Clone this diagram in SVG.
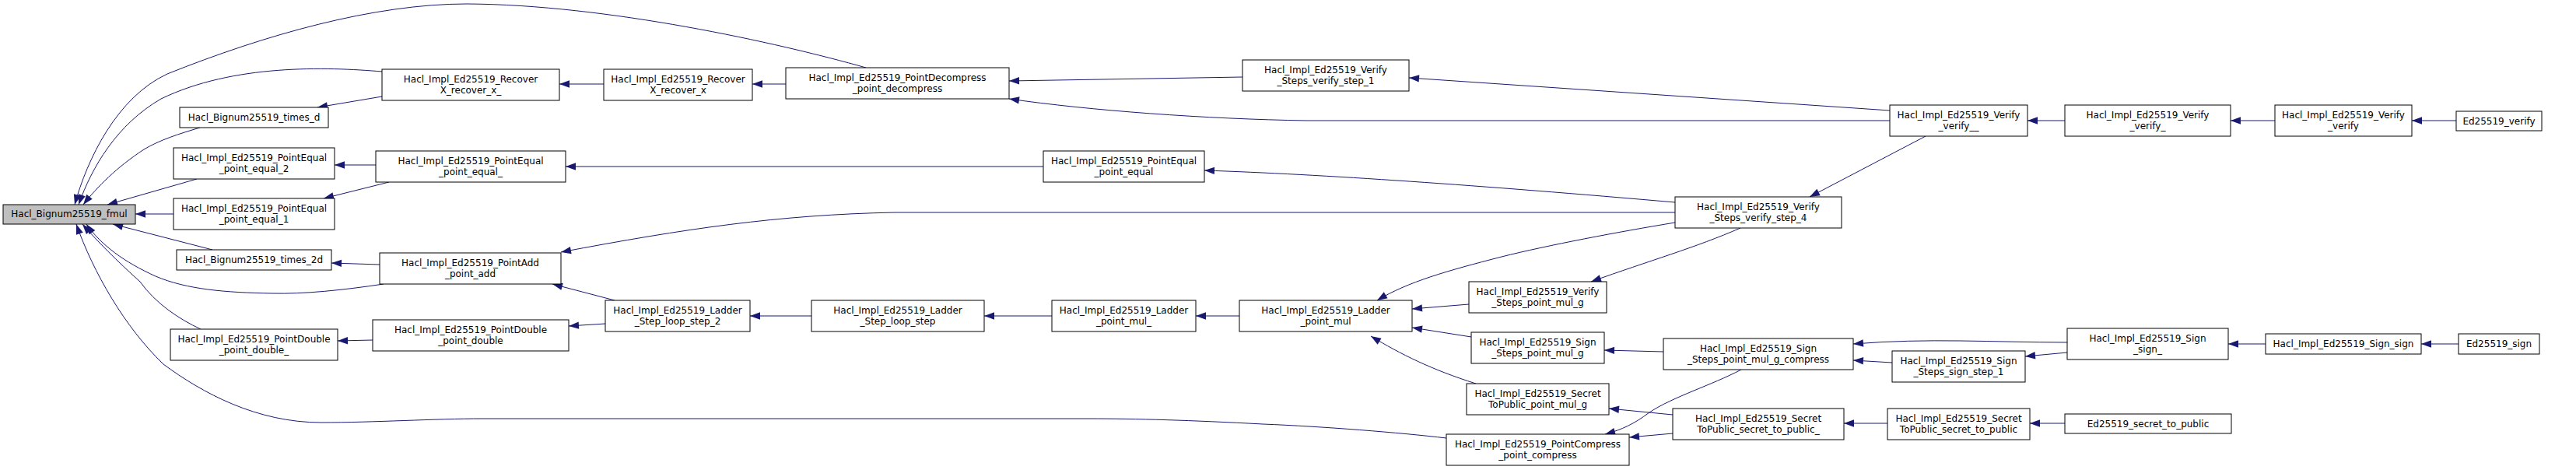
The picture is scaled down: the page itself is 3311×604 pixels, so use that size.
<svg xmlns="http://www.w3.org/2000/svg" width="3311" height="604" viewBox="0 0 3311 604">
<style>
.n rect{fill:#fff;stroke:#000;stroke-width:1}
.n.g rect{fill:#bfbfbf}
text{font-family:"DejaVu Sans",sans-serif;font-size:12px;text-anchor:middle;fill:#000}
#edges path{fill:none;stroke:#191970;stroke-width:1;marker-end:url(#a)}
</style>
<defs>
<marker id="a" markerUnits="userSpaceOnUse" markerWidth="14" markerHeight="10" refX="13" refY="5" orient="auto" overflow="visible">
<path d="M0,0.3 L13,5 L0,9.7z" fill="#191970"/>
</marker>
</defs>
<rect width="3311" height="604" fill="#fff"/>
<g id="edges">
<path d="M1113,87 C1000,55 780,6 600,5 C480,5 340,45 215,95 C150,125 112,205 96,263"/>
<path d="M491,92 C420,86 300,82 207,127 C150,160 118,215 101,263"/>
<path d="M491,124 L408,138"/>
<path d="M257,164 C230,172 205,180 185,192 C150,215 125,240 107,263"/>
<path d="M253,230 L138,263"/>
<path d="M483,212 L430,212"/>
<path d="M500,234 L416,255"/>
<path d="M223,275 L174,275"/>
<path d="M273,321 L145,288"/>
<path d="M488,340 L426,338"/>
<path d="M493,365 C440,373 390,378 350,377 C290,376 240,372 200,355 C160,337 130,315 111,288"/>
<path d="M258,423 C230,410 200,390 180,362 C150,335 125,310 106,288"/>
<path d="M1859,563 C1800,556 1700,548 1623,545 C1530,540 1460,538 1400,538 L620,538 C560,538 480,543 413,543 C330,543 260,505 210,468 C160,420 120,350 98,288"/>
<path d="M479,437 L434,438"/>
<path d="M2153,273 L1150,273 C1000,276 880,294 721,324"/>
<path d="M790,386 L710,365"/>
<path d="M778,416 L731,419"/>
<path d="M1043,406 L964,406"/>
<path d="M1352,406 L1265,406"/>
<path d="M1593,406 L1537,406"/>
<path d="M1597,99 L1297,104"/>
<path d="M2429,155 L1680,155 C1550,153 1400,142 1297,127"/>
<path d="M2429,142 L1811,100"/>
<path d="M2475,175 L2326,253"/>
<path d="M2153,260 C1900,238 1700,224 1548,219"/>
<path d="M2153,286 C2080,298 1990,315 1930,330 C1860,348 1810,362 1770,386"/>
<path d="M2237,293 C2180,318 2120,335 2045,362"/>
<path d="M1888,391 L1815,397"/>
<path d="M1891,433 L1815,421"/>
<path d="M1897,493 C1840,475 1800,455 1762,432"/>
<path d="M2138,452 L2062,450"/>
<path d="M2150,533 L2068,525"/>
<path d="M2150,557 L2094,562"/>
<path d="M2238,475 C2200,495 2150,510 2120,530 C2100,545 2085,552 2063,558"/>
<path d="M2657,440 C2560,440 2480,434 2382,442"/>
<path d="M2432,466 L2382,463"/>
<path d="M2657,453 L2603,458"/>
<path d="M2426,544 L2370,544"/>
<path d="M2654,544 L2609,544"/>
<path d="M2912,442 L2864,442"/>
<path d="M3160,442 L3112,442"/>
<path d="M2654,155 L2606,155"/>
<path d="M2924,155 L2867,155"/>
<path d="M3157,155 L3100,155"/>
<path d="M776,108 L719,108"/>
<path d="M1010,108 L967,108"/>
<path d="M1341,214 L727,214"/>
</g>
<g id="n_fmul" class="n g"><rect x="4" y="263" width="170" height="25"/><text x="89" y="279">Hacl_Bignum25519_fmul</text></g>
<g id="n_times_d" class="n"><rect x="231" y="138" width="191" height="26"/><text x="326.5" y="155">Hacl_Bignum25519_times_d</text></g>
<g id="n_pe2" class="n"><rect x="223" y="190" width="207" height="40"/><text x="326.5" y="207">Hacl_Impl_Ed25519_PointEqual</text><text x="326.5" y="221">_point_equal_2</text></g>
<g id="n_pe1" class="n"><rect x="223" y="255" width="207" height="40"/><text x="326.5" y="272">Hacl_Impl_Ed25519_PointEqual</text><text x="326.5" y="286">_point_equal_1</text></g>
<g id="n_times_2d" class="n"><rect x="227" y="321" width="199" height="26"/><text x="326.5" y="338">Hacl_Bignum25519_times_2d</text></g>
<g id="n_pdbl_" class="n"><rect x="219" y="423" width="215" height="40"/><text x="326.5" y="440">Hacl_Impl_Ed25519_PointDouble</text><text x="326.5" y="454">_point_double_</text></g>
<g id="n_recx_" class="n"><rect x="491" y="89" width="228" height="40"/><text x="605" y="106">Hacl_Impl_Ed25519_Recover</text><text x="605" y="120">X_recover_x_</text></g>
<g id="n_pe_" class="n"><rect x="483" y="194" width="244" height="40"/><text x="605" y="211">Hacl_Impl_Ed25519_PointEqual</text><text x="605" y="225">_point_equal_</text></g>
<g id="n_padd" class="n"><rect x="488" y="325" width="233" height="40"/><text x="604.5" y="342">Hacl_Impl_Ed25519_PointAdd</text><text x="604.5" y="356">_point_add</text></g>
<g id="n_pdbl" class="n"><rect x="479" y="411" width="252" height="40"/><text x="605" y="428">Hacl_Impl_Ed25519_PointDouble</text><text x="605" y="442">_point_double</text></g>
<g id="n_recx" class="n"><rect x="776" y="89" width="191" height="40"/><text x="871.5" y="106">Hacl_Impl_Ed25519_Recover</text><text x="871.5" y="120">X_recover_x</text></g>
<g id="n_ls2" class="n"><rect x="778" y="386" width="186" height="40"/><text x="871" y="403">Hacl_Impl_Ed25519_Ladder</text><text x="871" y="417">_Step_loop_step_2</text></g>
<g id="n_decomp" class="n"><rect x="1010" y="87" width="287" height="40"/><text x="1153.5" y="104">Hacl_Impl_Ed25519_PointDecompress</text><text x="1153.5" y="118">_point_decompress</text></g>
<g id="n_ls" class="n"><rect x="1043" y="386" width="222" height="40"/><text x="1154" y="403">Hacl_Impl_Ed25519_Ladder</text><text x="1154" y="417">_Step_loop_step</text></g>
<g id="n_pe" class="n"><rect x="1341" y="194" width="207" height="40"/><text x="1444.5" y="211">Hacl_Impl_Ed25519_PointEqual</text><text x="1444.5" y="225">_point_equal</text></g>
<g id="n_pm_" class="n"><rect x="1352" y="386" width="185" height="40"/><text x="1444.5" y="403">Hacl_Impl_Ed25519_Ladder</text><text x="1444.5" y="417">_point_mul_</text></g>
<g id="n_vs1" class="n"><rect x="1597" y="77" width="214" height="40"/><text x="1704" y="94">Hacl_Impl_Ed25519_Verify</text><text x="1704" y="108">_Steps_verify_step_1</text></g>
<g id="n_pm" class="n"><rect x="1593" y="386" width="222" height="40"/><text x="1704" y="403">Hacl_Impl_Ed25519_Ladder</text><text x="1704" y="417">_point_mul</text></g>
<g id="n_vpmg" class="n"><rect x="1888" y="362" width="177" height="40"/><text x="1976.5" y="379">Hacl_Impl_Ed25519_Verify</text><text x="1976.5" y="393">_Steps_point_mul_g</text></g>
<g id="n_spmg" class="n"><rect x="1891" y="427" width="171" height="40"/><text x="1976.5" y="444">Hacl_Impl_Ed25519_Sign</text><text x="1976.5" y="458">_Steps_point_mul_g</text></g>
<g id="n_tpmg" class="n"><rect x="1885" y="493" width="183" height="40"/><text x="1976.5" y="510">Hacl_Impl_Ed25519_Secret</text><text x="1976.5" y="524">ToPublic_point_mul_g</text></g>
<g id="n_comp" class="n"><rect x="1859" y="558" width="235" height="40"/><text x="1976.5" y="575">Hacl_Impl_Ed25519_PointCompress</text><text x="1976.5" y="589">_point_compress</text></g>
<g id="n_vs4" class="n"><rect x="2153" y="253" width="214" height="40"/><text x="2260" y="270">Hacl_Impl_Ed25519_Verify</text><text x="2260" y="284">_Steps_verify_step_4</text></g>
<g id="n_spmgc" class="n"><rect x="2138" y="435" width="244" height="40"/><text x="2260" y="452">Hacl_Impl_Ed25519_Sign</text><text x="2260" y="466">_Steps_point_mul_g_compress</text></g>
<g id="n_stp_" class="n"><rect x="2150" y="525" width="220" height="40"/><text x="2260" y="542">Hacl_Impl_Ed25519_Secret</text><text x="2260" y="556">ToPublic_secret_to_public_</text></g>
<g id="n_vv__" class="n"><rect x="2429" y="135" width="177" height="40"/><text x="2517.5" y="152">Hacl_Impl_Ed25519_Verify</text><text x="2517.5" y="166">_verify__</text></g>
<g id="n_ss1" class="n"><rect x="2432" y="451" width="171" height="40"/><text x="2517.5" y="468">Hacl_Impl_Ed25519_Sign</text><text x="2517.5" y="482">_Steps_sign_step_1</text></g>
<g id="n_stp" class="n"><rect x="2426" y="525" width="183" height="40"/><text x="2517.5" y="542">Hacl_Impl_Ed25519_Secret</text><text x="2517.5" y="556">ToPublic_secret_to_public</text></g>
<g id="n_vv_" class="n"><rect x="2654" y="135" width="213" height="40"/><text x="2760.5" y="152">Hacl_Impl_Ed25519_Verify</text><text x="2760.5" y="166">_verify_</text></g>
<g id="n_ss_" class="n"><rect x="2657" y="422" width="207" height="40"/><text x="2760.5" y="439">Hacl_Impl_Ed25519_Sign</text><text x="2760.5" y="453">_sign_</text></g>
<g id="n_edstp" class="n"><rect x="2654" y="532" width="214" height="25"/><text x="2761" y="548.5">Ed25519_secret_to_public</text></g>
<g id="n_vv" class="n"><rect x="2924" y="135" width="176" height="40"/><text x="3012" y="152">Hacl_Impl_Ed25519_Verify</text><text x="3012" y="166">_verify</text></g>
<g id="n_ss" class="n"><rect x="2912" y="429" width="200" height="26"/><text x="3012" y="446">Hacl_Impl_Ed25519_Sign_sign</text></g>
<g id="n_edv" class="n"><rect x="3157" y="143" width="110" height="25"/><text x="3212" y="159.5">Ed25519_verify</text></g>
<g id="n_eds" class="n"><rect x="3160" y="429" width="104" height="26"/><text x="3212" y="446">Ed25519_sign</text></g>
</svg>
